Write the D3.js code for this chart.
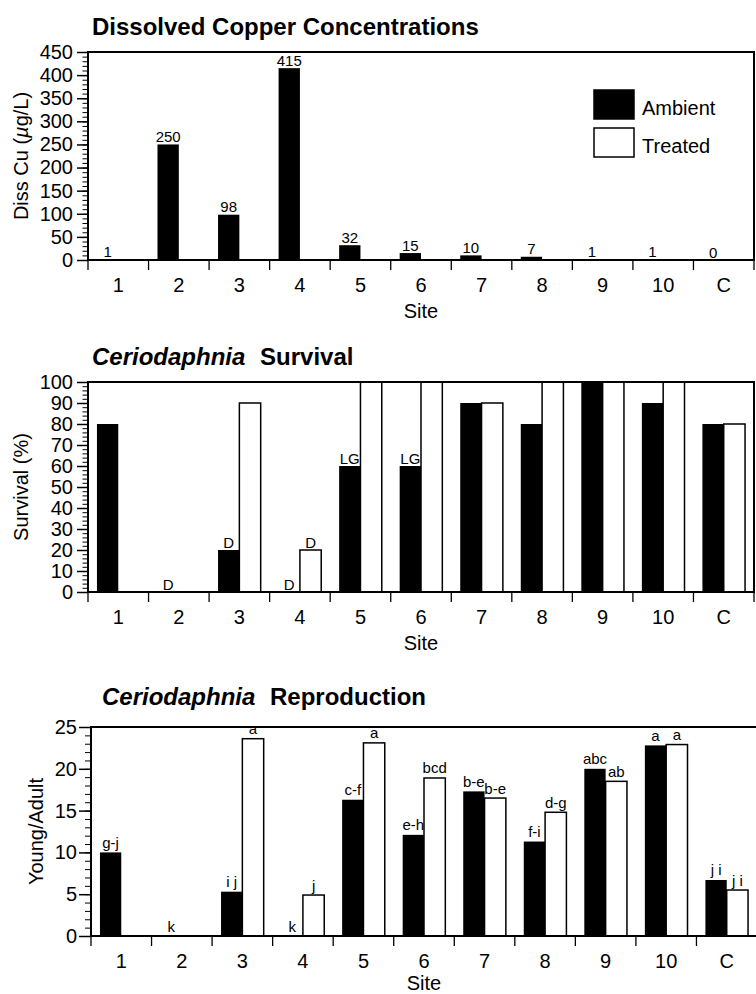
<!DOCTYPE html>
<html>
<head>
<meta charset="utf-8">
<script src="https://cdn.jsdelivr.net/npm/d3@7"></script>
<style>
  body { margin: 0; background: #fff; }
  svg { display: block; font-family: "Liberation Sans", Arial, Helvetica, sans-serif; }
</style>
</head>
<body>
<script>
// ===============================
// DATA
// ===============================
const sites = ["1", "2", "3", "4", "5", "6", "7", "8", "9", "10", "C"];
const series = ["Ambient", "Treated"];

// dissolved copper (ug/L), ambient only
const copperAmbient = [1, 250, 98, 415, 32, 15, 10, 7, 1, 1, 0];
const copperLabels = ["1", "250", "98", "415", "32", "15", "10", "7", "1", "1", "0"];
const copperTicks = [0, 50, 100, 150, 200, 250, 300, 350, 400, 450];

// survival (%)
const survivalAmbient = [80, 0, 20, 0, 60, 60, 90, 80, 100, 90, 80];
const survivalTreated = [null, null, 90, 20, 100, 100, 90, 100, 100, 100, 80];
const survivalAmbientNotes = ["", "D", "D", "D", "LG", "LG", "", "", "", "", ""];
const survivalTreatedNotes = ["", "", "", "D", "", "", "", "", "", "", ""];
const survivalTicks = [0, 10, 20, 30, 40, 50, 60, 70, 80, 90, 100];

// reproduction (young / adult)
const reproAmbient = [10.0, 0, 5.3, 0, 16.3, 12.1, 17.3, 11.3, 20.0, 22.8, 6.7];
const reproTreated = [null, null, 23.6, 4.9, 23.1, 18.9, 16.5, 14.8, 18.5, 22.9, 5.5];
const reproAmbientGroups = ["g-j", "k", "i j", "k", "c-f", "e-h", "b-e", "f-i", "abc", "a", "j i"];
const reproTreatedGroups = ["", "", "a", "j", "a", "bcd", "b-e", "d-g", "ab", "a", "j i"];
const reproTicks = [0, 5, 10, 15, 20, 25];

// ===============================
// SVG
// ===============================
const width = 756;
const height = 994;

const svg = d3.select("body")
  .append("svg")
  .attr("width", width)
  .attr("height", height);

// ===============================
// ONE PANEL
// ===============================
function drawPanel(cfg) {
  const g = svg.append("g");

  const x = d3.scaleBand().domain(sites).range([cfg.left, cfg.right]);
  const xs = d3.scaleBand().domain(series).range([0, x.bandwidth()]).paddingOuter(0.42);
  const y = d3.scaleLinear().domain([0, cfg.max]).range([cfg.bottom, cfg.top]);

  // title
  const title = g.append("text")
    .attr("x", cfg.titleX)
    .attr("y", cfg.titleY)
    .attr("font-size", "24px")
    .attr("font-weight", "bold");
  if (cfg.italic) {
    title.append("tspan").attr("font-style", "italic").text(cfg.italic);
    title.append("tspan").attr("dx", 8).text(" " + cfg.title);
  } else {
    title.text(cfg.title);
  }

  // bars
  const rows = sites.map((s, i) => ({
    site: s,
    Ambient: cfg.ambient[i],
    Treated: cfg.treated ? cfg.treated[i] : null,
    noteA: cfg.notesA[i],
    noteT: cfg.notesT ? cfg.notesT[i] : ""
  }));

  const bars = [];
  rows.forEach(r => {
    series.forEach(k => {
      if (r[k] != null) bars.push({ site: r.site, key: k, value: r[k] });
    });
  });

  g.selectAll("rect.bar")
    .data(bars)
    .join("rect")
    .attr("class", "bar")
    .attr("x", d => x(d.site) + xs(d.key))
    .attr("width", xs.bandwidth())
    .attr("y", d => y(d.value))
    .attr("height", d => y(0) - y(d.value))
    .attr("fill", d => d.key === "Ambient" ? "#000" : "#fff")
    .attr("stroke", d => d.key === "Ambient" ? "none" : "#000")
    .attr("stroke-width", 1.5);

  // labels over bars
  const notes = [];
  rows.forEach(r => {
    if (r.noteA) notes.push({ site: r.site, key: "Ambient", value: r.Ambient || 0, text: r.noteA });
    if (r.noteT) notes.push({ site: r.site, key: "Treated", value: r.Treated || 0, text: r.noteT });
  });

  g.selectAll("text.note")
    .data(notes)
    .join("text")
    .attr("class", "note")
    .attr("x", d => x(d.site) + xs(d.key) + xs.bandwidth() / 2)
    .attr("y", d => y(d.value) - cfg.noteGap)
    .attr("text-anchor", "middle")
    .attr("font-size", "15px")
    .text(d => d.text);

  // frame
  g.append("path")
    .attr("d", `M${cfg.left},${cfg.bottom}V${cfg.top}H${cfg.right}V${cfg.bottom}Z`)
    .attr("fill", "none")
    .attr("stroke", "#000")
    .attr("stroke-width", 2);

  // y axis, major + minor
  g.append("g")
    .attr("transform", `translate(${cfg.left},0)`)
    .call(d3.axisLeft(y).tickValues(d3.range(0, cfg.max + 1e-9, cfg.minor)).tickSize(cfg.tick / 2).tickFormat(""))
    .call(a => a.select(".domain").remove())
    .selectAll("line").attr("stroke-width", 1);

  g.append("g")
    .attr("transform", `translate(${cfg.left},0)`)
    .call(d3.axisLeft(y).tickValues(cfg.ticks).tickSize(cfg.tick).tickPadding(cfg.tickPad))
    .call(a => a.select(".domain").remove())
    .call(a => a.selectAll("line").attr("stroke-width", 1.5))
    .call(a => a.selectAll("text").attr("font-size", "20px").attr("font-family", null).attr("fill", "#000"));

  // x axis: labels centred, ticks on category edges
  g.append("g")
    .attr("transform", `translate(0,${cfg.bottom})`)
    .call(d3.axisBottom(x).tickSize(0).tickPadding(18))
    .call(a => a.select(".domain").remove())
    .call(a => a.selectAll("text").attr("font-size", "20px").attr("font-family", null).attr("fill", "#000"));

  const edges = sites.map(s => x(s)).concat([x.range()[1]]);
  g.selectAll("line.edge")
    .data(edges)
    .join("line")
    .attr("class", "edge")
    .attr("x1", d => d).attr("x2", d => d)
    .attr("y1", cfg.bottom).attr("y2", cfg.bottom + 10)
    .attr("stroke", "#000")
    .attr("stroke-width", 1.3);

  g.append("text")
    .attr("x", (cfg.left + cfg.right) / 2)
    .attr("y", cfg.bottom + cfg.siteGap)
    .attr("text-anchor", "middle")
    .attr("font-size", "20px")
    .text("Site");

  // y title
  const yt = g.append("text")
    .attr("transform", `translate(${cfg.yTitleX},${(cfg.top + cfg.bottom) / 2}) rotate(-90)`)
    .attr("text-anchor", "middle")
    .attr("font-size", "20px");
  if (cfg.yTitleParts) {
    cfg.yTitleParts.forEach(p => yt.append("tspan").attr("font-style", p.italic ? "italic" : null).text(p.text));
  } else {
    yt.text(cfg.yTitle);
  }

  return g;
}

// ===============================
// PANELS
// ===============================
const copperPanel = drawPanel({
  title: "Dissolved Copper Concentrations",
  titleX: 92, titleY: 35,
  left: 88, right: 754, top: 52, bottom: 260,
  max: 450, ticks: copperTicks, minor: 10, tick: 11, tickPad: 4,
  ambient: copperAmbient, treated: null,
  notesA: copperLabels, notesT: null, noteGap: 2.5,
  siteGap: 58, yTitleX: 28,
  yTitleParts: [{ text: "Diss Cu (" }, { text: "\u00b5", italic: true }, { text: "g/L)" }]
});

drawPanel({
  italic: "Ceriodaphnia", title: "Survival",
  titleX: 92, titleY: 365,
  left: 88, right: 754, top: 382, bottom: 592,
  max: 100, ticks: survivalTicks, minor: 2, tick: 11, tickPad: 4,
  ambient: survivalAmbient, treated: survivalTreated,
  notesA: survivalAmbientNotes, notesT: survivalTreatedNotes, noteGap: 2.5,
  siteGap: 58, yTitleX: 28, yTitle: "Survival (%)"
});

drawPanel({
  italic: "Ceriodaphnia", title: "Reproduction",
  titleX: 102, titleY: 705,
  left: 91, right: 757, top: 727, bottom: 936,
  max: 25, ticks: reproTicks, minor: 1, tick: 12, tickPad: 2,
  ambient: reproAmbient, treated: reproTreated,
  notesA: reproAmbientGroups, notesT: reproTreatedGroups, noteGap: 4.5,
  siteGap: 54, yTitleX: 43, yTitle: "Young/Adult"
});

// ===============================
// LEGEND (top panel)
// ===============================
const legend = copperPanel.append("g");
legend.selectAll("rect")
  .data(series)
  .join("rect")
  .attr("x", 594)
  .attr("y", (d, i) => 90 + i * 38)
  .attr("width", 40)
  .attr("height", 29)
  .attr("fill", d => d === "Ambient" ? "#000" : "#fff")
  .attr("stroke", "#000")
  .attr("stroke-width", 1.5);

legend.selectAll("text")
  .data(series)
  .join("text")
  .attr("x", 642)
  .attr("y", (d, i) => 115 + i * 38)
  .attr("font-size", "20px")
  .text(d => d);
</script>
</body>
</html>
